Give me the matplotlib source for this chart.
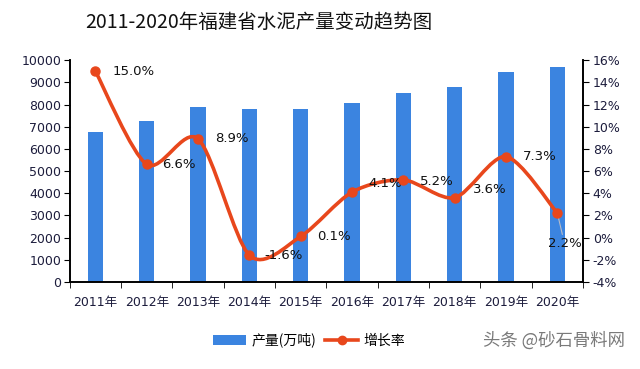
import matplotlib.pyplot as plt
import numpy as np
from matplotlib.path import Path
from matplotlib.patches import PathPatch
from matplotlib.lines import Line2D
from matplotlib.patches import Patch

plt.rcParams['font.family'] = ['DejaVu Sans', 'Noto Sans CJK SC']

years = ['2011年', '2012年', '2013年', '2014年', '2015年',
         '2016年', '2017年', '2018年', '2019年', '2020年']
output = [6770, 7250, 7900, 7780, 7780, 8080, 8500, 8800, 9450, 9700]
growth = [15.0, 6.6, 8.9, -1.6, 0.1, 4.1, 5.2, 3.6, 7.3, 2.2]
label_offsets = [(12, 0), (11, 0), (12, 0), (11, 0), (12, 0),
                 (12, 6), (12, -1), (13, 6), (12, 0), (-7, -22)]

bar_color = '#3B84E0'
line_color = '#E8471C'
tick_color = '#1c1c3c'


def smooth_path(x, y, k=7.0):
    # bezier control points like an office "smoothed line"
    verts = [(x[0], y[0])]
    codes = [Path.MOVETO]
    n = len(x)
    for i in range(n - 1):
        x0, y0 = (x[i - 1], y[i - 1]) if i > 0 else (x[i], y[i])
        x3, y3 = (x[i + 2], y[i + 2]) if i + 2 < n else (x[i + 1], y[i + 1])
        c1 = (x[i] + (x[i + 1] - x0) / k, y[i] + (y[i + 1] - y0) / k)
        c2 = (x[i + 1] - (x3 - x[i]) / k, y[i + 1] - (y3 - y[i]) / k)
        verts += [c1, c2, (x[i + 1], y[i + 1])]
        codes += [Path.CURVE4] * 3
    return Path(verts, codes)


fig = plt.figure(figsize=(6.4, 3.69), dpi=100)
ax = fig.add_axes([0.109, 0.236, 0.802, 0.601])
ax2 = ax.twinx()

x = np.arange(len(years))
ax.bar(x, output, width=0.3, color=bar_color, zorder=2)
ax.set_xlim(-0.5, len(years) - 0.5)
ax.set_ylim(0, 10000)
ax.set_yticks(np.arange(0, 10001, 1000))
ax.set_xticks(x)
ax.set_xticklabels(years)
ax.set_xticks(np.arange(-0.5, len(years), 1), minor=True)
ax.tick_params(axis='x', which='major', length=0, pad=10, labelsize=9, labelcolor=tick_color)
ax.tick_params(axis='x', which='minor', length=4, direction='out')
ax.tick_params(axis='y', length=4, direction='out', labelsize=9, labelcolor=tick_color, pad=2)

ax2.set_ylim(-4, 16)
ax2.set_yticks(np.arange(-4, 17, 2))
ax2.set_yticklabels([f'{v}%' for v in range(-4, 17, 2)])
ax2.tick_params(axis='y', length=4, direction='out', labelsize=9, labelcolor=tick_color, pad=3)

for a in (ax, ax2):
    a.spines['top'].set_visible(False)
    for s in ('left', 'right', 'bottom'):
        a.spines[s].set_linewidth(1.2)

ax2.add_patch(PathPatch(smooth_path(x, growth), facecolor='none',
                        edgecolor=line_color, linewidth=2.6, zorder=3))
ax2.plot(x, growth, linestyle='none', marker='o', markersize=6.5,
         color=line_color, zorder=4)

for xi, g, off in zip(x, growth, label_offsets):
    if off[1] < -10:
        ax2.annotate(f'{g:.1f}%', (xi, g), xytext=off, textcoords='offset points',
                     ha='left', va='center', fontsize=9.5, color='#111111',
                     arrowprops=dict(arrowstyle='-', color='#b8bcc8', lw=0.8,
                                     shrinkA=0, shrinkB=3))
    else:
        ax2.annotate(f'{g:.1f}%', (xi, g), xytext=off, textcoords='offset points',
                     ha='left', va='center', fontsize=9.5, color='#111111')

fig.text(0.405, 0.94, '2011-2020年福建省水泥产量变动趋势图', ha='center', va='center',
         fontsize=14, family=['Noto Sans CJK SC', 'DejaVu Sans'], color='#111111')

handles = [Patch(facecolor=bar_color, edgecolor='none'),
           Line2D([], [], color=line_color, linewidth=2.6, marker='o', markersize=6)]
fig.legend(handles, ['产量(万吨)', '增长率'], loc='center', bbox_to_anchor=(0.483, 0.078),
           ncol=2, frameon=False, handlelength=2.4, columnspacing=0.6,
           handletextpad=0.4, prop={'family': ['Noto Sans CJK SC', 'DejaVu Sans'], 'size': 10})

fig.text(0.755, 0.078, '头条 @砂石骨料网', ha='left', va='center', fontsize=12.5,
         color='#7a7a7a', family=['Noto Sans CJK SC', 'DejaVu Sans'])

fig.savefig('out.png', dpi=100)
